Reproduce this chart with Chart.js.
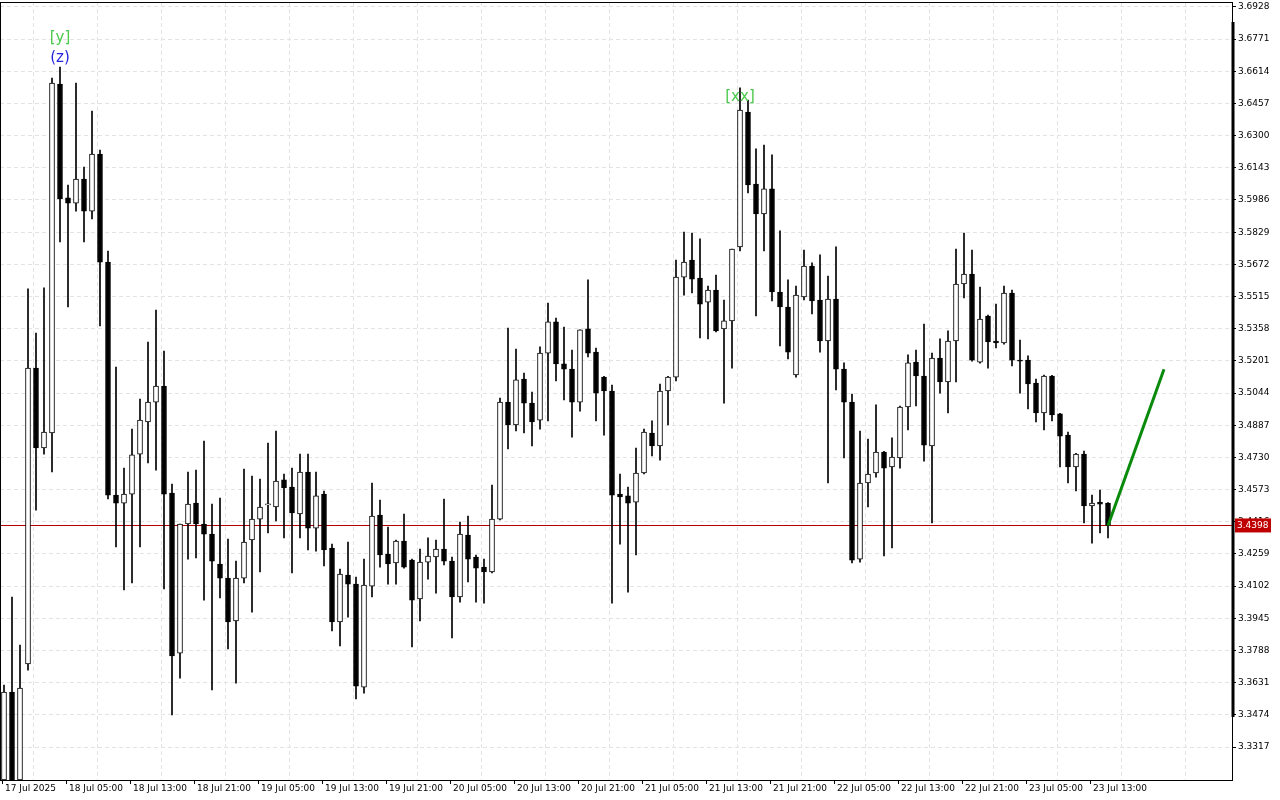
<!DOCTYPE html>
<html>
<head>
<meta charset="utf-8">
<script src="https://cdn.jsdelivr.net/npm/chart.js@4.4.1/dist/chart.umd.min.js"></script>
<style>
  html, body { margin: 0; padding: 0; background: #ffffff; }
  #wrap { width: 1280px; height: 800px; }
</style>
</head>
<body>
<div id="wrap"><canvas id="chart" width="1280" height="800"></canvas></div>
<script>
// Hourly candles, 17 Jul 2025 evening .. 23 Jul 2025
const opens = [
  3.3156,3.3585,3.3156,3.3722,3.5166,3.4776,3.4849,3.6552,3.5996,3.5971,
  3.6088,3.5932,3.6210,3.5683,3.4546,3.4507,3.4551,3.4746,3.4903,3.5000,
  3.5078,3.4556,3.3775,3.4405,3.4507,3.4405,3.4356,3.4210,3.4141,3.3932,
  3.4141,3.4327,3.4429,3.4498,3.4488,3.4620,3.4585,3.4454,3.4659,3.4385,
  3.4551,3.4288,3.3927,3.4156,3.4112,3.3609,3.4102,3.4449,3.4258,3.4215,
  3.4322,3.4229,3.4039,3.4219,3.4244,3.4283,3.4224,3.4049,3.4351,3.4244,
  3.4195,3.4171,3.4429,3.5000,3.4888,3.5112,3.4995,3.4912,3.5239,3.5391,
  3.5186,3.5161,3.5000,3.5357,3.5244,3.5122,3.5054,3.4551,3.4542,3.4512,
  3.4654,3.4849,3.4786,3.5054,3.5122,3.5610,3.5693,3.5605,3.5488,3.5547,
  3.5357,3.5396,3.5757,3.6415,3.6064,3.5918,3.6040,3.5537,3.5464,3.5132,
  3.5513,3.5664,3.5498,3.5298,3.5503,3.5161,3.5000,3.4234,3.4605,3.4654,
  3.4756,3.4683,3.4727,3.4976,3.5195,3.5127,3.4786,3.5215,3.5098,3.5298,
  3.5576,3.5625,3.5195,3.5420,3.5298,3.5288,3.5532,3.5205,3.5205,3.5093,
  3.4947,3.5127,3.4942,3.4839,3.4683,3.4746,3.4493,3.4512,3.4507
];
const highs = [
  3.3619,3.4049,3.3814,3.5552,3.5337,3.5557,3.6581,3.6635,3.6059,3.6557,
  3.6147,3.6420,3.6230,3.5737,3.5171,3.4678,3.4868,3.5015,3.5293,3.5449,
  3.5249,3.4600,3.4405,3.4659,3.4668,3.4810,3.4502,3.4532,3.4332,3.4224,
  3.4673,3.4639,3.4624,3.4800,3.4859,3.4649,3.4678,3.4746,3.4746,3.4659,
  3.4566,3.4307,3.4185,3.4317,3.4146,3.4234,3.4605,3.4522,3.4390,3.4327,
  3.4454,3.4234,3.4283,3.4337,3.4327,3.4527,3.4244,3.4415,3.4444,3.4254,
  3.4234,3.4595,3.5020,3.5361,3.5259,3.5142,3.5049,3.5269,3.5483,3.5410,
  3.5366,3.5254,3.5352,3.5596,3.5264,3.5125,3.5083,3.4649,3.4585,3.4776,
  3.4868,3.4908,3.5088,3.5125,3.5693,3.5830,3.5825,3.5796,3.5566,3.5620,
  3.5498,3.5747,3.6533,3.6474,3.6235,3.6254,3.6206,3.5835,3.5596,3.5566,
  3.5742,3.5679,3.5718,3.5615,3.5757,3.5191,3.5039,3.4859,3.4820,3.4986,
  3.4760,3.4825,3.4980,3.5230,3.5254,3.5381,3.5239,3.5308,3.5347,3.5747,
  3.5825,3.5742,3.5561,3.5425,3.5478,3.5566,3.5547,3.5303,3.5225,3.5112,
  3.5132,3.5130,3.4945,3.4854,3.4750,3.4761,3.4546,3.4571,3.4510
];
const lows = [
  3.3107,3.3107,3.3131,3.3692,3.4473,3.4746,3.4659,3.5781,3.5464,3.5932,
  3.5781,3.5893,3.5371,3.4527,3.4293,3.4083,3.4117,3.4293,3.4703,3.4668,
  3.4088,3.3473,3.3653,3.4234,3.4239,3.4034,3.3595,3.4044,3.3795,3.3629,
  3.4117,3.3975,3.4171,3.4361,3.4420,3.4337,3.4166,3.4337,3.4278,3.4273,
  3.4200,3.3883,3.3810,3.3951,3.3551,3.3580,3.4049,3.4195,3.4112,3.4112,
  3.4190,3.3805,3.3932,3.4136,3.4068,3.4205,3.3849,3.4024,3.4122,3.4024,
  3.4019,3.4166,3.4425,3.4771,3.4859,3.4849,3.4786,3.4868,3.4908,3.5103,
  3.5010,3.4829,3.4956,3.5220,3.4908,3.4839,3.4019,3.4307,3.4073,3.4254,
  3.4650,3.4737,3.4717,3.4888,3.5103,3.5522,3.5532,3.5313,3.5308,3.5342,
  3.4995,3.5166,3.5737,3.6020,3.5420,3.5737,3.5493,3.5274,3.5210,3.5122,
  3.5498,3.5430,3.5244,3.4605,3.5059,3.4727,3.4215,3.4219,3.4488,3.4634,
  3.4249,3.4288,3.4678,3.4864,3.4981,3.4712,3.4410,3.5044,3.4947,3.5098,
  3.5508,3.5200,3.5190,3.5166,3.5264,3.5283,3.5176,3.5044,3.4966,3.4903,
  3.4864,3.4908,3.4683,3.4605,3.4566,3.4410,3.4312,3.4361,3.4337
];
const closes = [
  3.3585,3.3131,3.3605,3.5166,3.4776,3.4854,3.6557,3.5991,3.5971,3.6088,
  3.5932,3.6210,3.5683,3.4546,3.4507,3.4551,3.4742,3.4912,3.5000,3.5078,
  3.4551,3.3761,3.4405,3.4502,3.4405,3.4356,3.4224,3.4141,3.3927,3.4141,
  3.4317,3.4429,3.4488,3.4498,3.4615,3.4581,3.4459,3.4659,3.4385,3.4542,
  3.4278,3.3927,3.4161,3.4112,3.3614,3.4107,3.4444,3.4254,3.4210,3.4322,
  3.4195,3.4034,3.4219,3.4249,3.4283,3.4224,3.4049,3.4356,3.4234,3.4190,
  3.4171,3.4429,3.5000,3.4888,3.5108,3.4995,3.4903,3.5239,3.5391,3.5186,
  3.5161,3.5000,3.5352,3.5239,3.5044,3.5054,3.4546,3.4537,3.4507,3.4654,
  3.4854,3.4786,3.5054,3.5122,3.5610,3.5683,3.5600,3.5478,3.5547,3.5347,
  3.5396,3.5747,3.6425,3.6059,3.5918,3.6040,3.5537,3.5464,3.5244,3.5522,
  3.5664,3.5493,3.5298,3.5503,3.5161,3.5000,3.4229,3.4605,3.4649,3.4756,
  3.4678,3.4732,3.4976,3.5191,3.5127,3.4790,3.5215,3.5098,3.5298,3.5576,
  3.5625,3.5205,3.5405,3.5293,3.5288,3.5532,3.5205,3.5200,3.5088,3.4947,
  3.5127,3.4937,3.4834,3.4683,3.4746,3.4493,3.4507,3.4502,3.4398
];

// time axis labels, one every 8 bars
const timeLabels = ['17 Jul 2025', '18 Jul 05:00', '18 Jul 13:00', '18 Jul 21:00', '19 Jul 05:00',
  '19 Jul 13:00', '19 Jul 21:00', '20 Jul 05:00', '20 Jul 13:00', '20 Jul 21:00', '21 Jul 05:00',
  '21 Jul 13:00', '21 Jul 21:00', '22 Jul 05:00', '22 Jul 13:00', '22 Jul 21:00', '23 Jul 05:00',
  '23 Jul 13:00'];
const priceTicks = [3.3317, 3.3474, 3.3631, 3.3788, 3.3945, 3.4102, 3.4259, 3.4416, 3.4573, 3.4730,
  3.4887, 3.5044, 3.5201, 3.5358, 3.5515, 3.5672, 3.5829, 3.5986, 3.6143, 3.6300, 3.6457, 3.6614,
  3.6771, 3.6928];
const currentPrice = 3.4398;

// projection line: from last bar to a target bar
const projFrom = 138, projTo = 145, projTarget = 3.5160;

const marks = [
  { text: '[y]', bar: 7, price: 3.6777, color: '#4cc94c' },
  { text: '(z)', bar: 7, price: 3.6679, color: '#2424e0' },
  { text: '[xx]', bar: 92, price: 3.6489, color: '#4cc94c' }
];

const totalBars = 154;
const categories = [];
for (let i = 0; i < totalBars; i++) categories.push(i);

const wicks = lows.map((l, i) => [l, highs[i]]);
const bodies = opens.map((o, i) => [o, closes[i]]);
const bodyFill = opens.map((o, i) => closes[i] >= o ? '#ffffff' : '#000000');
const projection = categories.map(i => i === projFrom ? closes[projFrom] : (i === projTo ? projTarget : null));

const font = { family: 'DejaVu Sans', size: 9 };
const gridColor = '#e3e3e3';

const overlay = {
  id: 'overlay',
  beforeDatasetsDraw(chart) {
    const { ctx, chartArea: a, scales } = chart;
    ctx.save();
    // vertical dashed grid, halfway between time labels
    ctx.strokeStyle = gridColor;
    ctx.lineWidth = 1;
    ctx.setLineDash([4, 3]);
    for (let i = 4; i < totalBars; i += 8) {
      const x = Math.round(scales.x.getPixelForValue(i)) - 2.5;
      ctx.beginPath();
      ctx.moveTo(x, a.top);
      ctx.lineTo(x, a.bottom);
      ctx.stroke();
    }
    ctx.setLineDash([]);
    const y = scales.y.getPixelForValue(currentPrice);
    ctx.strokeStyle = '#b00000';
    ctx.beginPath();
    ctx.moveTo(a.left, Math.round(y) + 0.5);
    ctx.lineTo(a.right, Math.round(y) + 0.5);
    ctx.stroke();
    ctx.restore();
  },
  afterDraw(chart) {
    const { ctx, chartArea: a, scales } = chart;
    ctx.save();
    // frame
    ctx.strokeStyle = '#000000';
    ctx.lineWidth = 1;
    ctx.strokeRect(a.left + 0.5, a.top + 0.5, a.right - a.left, a.bottom - a.top);
    // thick bar on the price scale
    ctx.lineWidth = 3;
    ctx.beginPath();
    ctx.moveTo(a.right + 1, 22);
    ctx.lineTo(a.right + 1, 717);
    ctx.stroke();
    // time labels
    ctx.lineWidth = 1;
    ctx.font = '9px "DejaVu Sans"';
    ctx.fillStyle = '#000000';
    ctx.textAlign = 'left';
    ctx.textBaseline = 'middle';
    timeLabels.forEach((t, k) => {
      const x = Math.round(scales.x.getPixelForValue(k * 8)) - 2;
      ctx.beginPath();
      ctx.moveTo(x + 0.5, a.bottom);
      ctx.lineTo(x + 0.5, a.bottom + 4);
      ctx.stroke();
      ctx.fillText(t, x + 3, a.bottom + 9);
    });
    // current price box
    const py = scales.y.getPixelForValue(currentPrice);
    ctx.fillStyle = '#c00000';
    ctx.fillRect(a.right + 3, py - 7, 36, 14);
    ctx.fillStyle = '#ffffff';
    ctx.fillText(currentPrice.toFixed(4), a.right + 5, py);
    // text marks
    ctx.font = '15px "DejaVu Sans"';
    ctx.textAlign = 'center';
    marks.forEach(m => {
      ctx.fillStyle = m.color;
      ctx.fillText(m.text, scales.x.getPixelForValue(m.bar), scales.y.getPixelForValue(m.price));
    });
    ctx.restore();
  }
};

new Chart(document.getElementById('chart'), {
  type: 'bar',
  data: {
    labels: categories,
    datasets: [
      {
        type: 'line',
        data: projection,
        borderColor: '#0a8a0a',
        borderWidth: 3,
        pointRadius: 0,
        spanGaps: true,
        order: 0
      },
      {
        data: bodies,
        backgroundColor: bodyFill,
        borderColor: '#000000',
        borderWidth: 1,
        borderSkipped: false,
        barThickness: 5,
        minBarLength: 1,
        grouped: false,
        order: 1
      },
      {
        data: wicks,
        backgroundColor: '#000000',
        borderWidth: 0,
        barThickness: 1,
        grouped: false,
        order: 2
      }
    ]
  },
  options: {
    responsive: false,
    animation: false,
    layout: { padding: { top: 2, left: 0, bottom: 20, right: 0 } },
    plugins: { legend: { display: false }, tooltip: { enabled: false } },
    scales: {
      x: {
        display: true,
        offset: true,
        border: { display: false },
        grid: { display: false },
        ticks: { display: false, autoSkip: false },
        afterFit: (s) => { s.height = 0; s.paddingLeft = 0; s.paddingRight = 0; }
      },
      y: {
        position: 'right',
        min: 3.3156,
        max: 3.6952,
        afterBuildTicks: (s) => { s.ticks = priceTicks.map(v => ({ value: v })); },
        afterFit: (s) => { s.width = 48; s.paddingTop = 0; s.paddingBottom = 0; },
        border: { display: false, dash: [4, 3] },
        grid: {
          color: gridColor,
          tickColor: '#000000',
          tickLength: 4,
          drawOnChartArea: true
        },
        ticks: {
          font: font,
          color: '#000000',
          padding: 2,
          callback: (v) => v.toFixed(4)
        }
      }
    }
  },
  plugins: [overlay]
});
</script>
</body>
</html>
